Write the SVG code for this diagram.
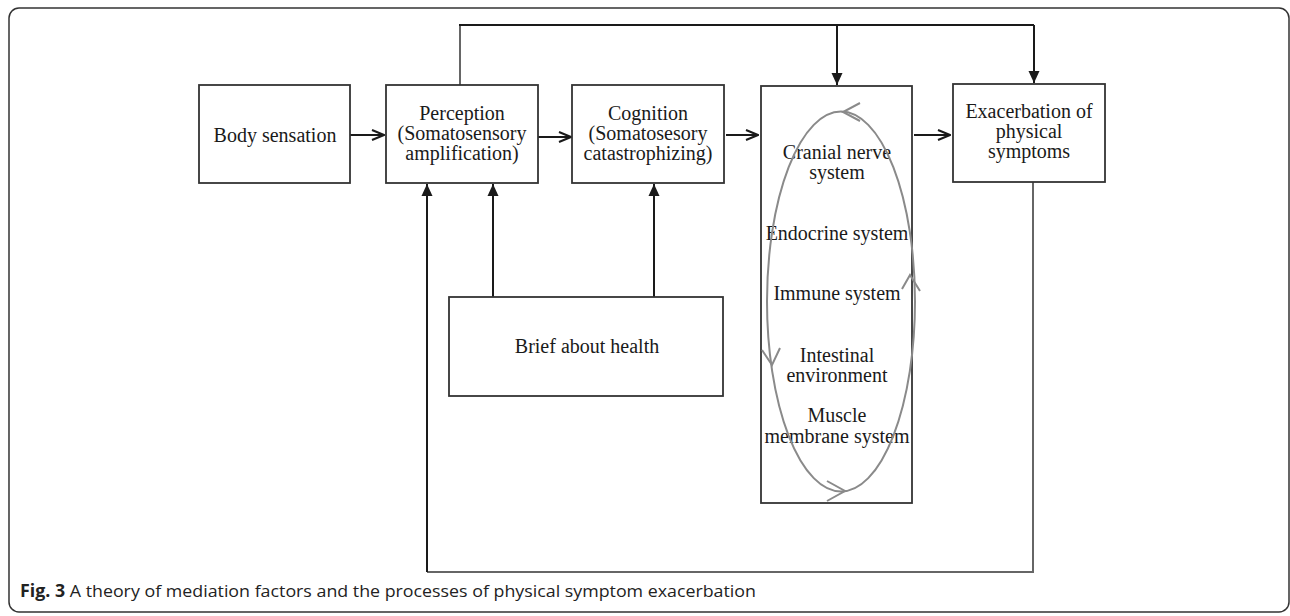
<svg xmlns="http://www.w3.org/2000/svg" width="1290" height="616" viewBox="0 0 1290 616">
<defs>
<style>
.box{fill:#fff;stroke:#333;stroke-width:1.8}
.t{font-family:"Liberation Serif","Times New Roman",serif;font-size:20px;fill:#1a1a1a;text-anchor:middle}
.ln{fill:none;stroke:#1a1a1a;stroke-width:2}
.gl{fill:none;stroke:#666;stroke-width:2}
.cyc{fill:none;stroke:#8a8a8a;stroke-width:2}
.cap{font-family:"Open Sans","Noto Sans","Liberation Sans",sans-serif;font-size:17px;fill:#222}
</style>
<marker id="open" viewBox="0 0 14 12" refX="13" refY="6" markerWidth="14" markerHeight="12" markerUnits="userSpaceOnUse" orient="auto">
<path d="M1,1 L13,6 L1,11" fill="none" stroke="#1a1a1a" stroke-width="2"/>
</marker>
<marker id="fill" viewBox="0 0 12 12" refX="12" refY="6" markerWidth="12" markerHeight="12" markerUnits="userSpaceOnUse" orient="auto">
<path d="M0,0.5 L12,6 L0,11.5 Z" fill="#1a1a1a"/>
</marker>
</defs>
<rect x="9" y="8" width="1280" height="604" rx="10" fill="#fff" stroke="#333" stroke-width="1.5"/>
<g id="connectors">
<path class="ln" d="M350,135 H384" marker-end="url(#open)"/>
<path class="ln" d="M538,137 H571" marker-end="url(#open)"/>
<path class="ln" d="M726,135 H758" marker-end="url(#open)"/>
<path class="ln" d="M914,135 H950" marker-end="url(#open)"/>
<path class="gl" d="M460,85 V25"/>
<path class="ln" d="M459,25 H1034"/>
<path class="ln" d="M837,25 V85" marker-end="url(#fill)"/>
<path class="ln" d="M1034,25 V83" marker-end="url(#fill)"/>
<path class="ln" d="M493,297 V184" marker-end="url(#fill)"/>
<path class="ln" d="M654,297 V184" marker-end="url(#fill)"/>
<path class="gl" d="M1033,182 V572 H427"/>
<path class="ln" d="M427,572 V184" marker-end="url(#fill)"/>
</g>
<g id="body-sensation">
<rect class="box" x="199" y="85" width="151" height="98"/>
<text class="t" x="275" y="142">Body sensation</text>
</g>
<g id="perception">
<rect class="box" x="386" y="85" width="152" height="98"/>
<text class="t" x="462" y="120">Perception</text>
<text class="t" x="462" y="140">(Somatosensory</text>
<text class="t" x="462" y="160">amplification)</text>
</g>
<g id="cognition">
<rect class="box" x="572" y="85" width="152" height="98"/>
<text class="t" x="648" y="120">Cognition</text>
<text class="t" x="648" y="140">(Somatosesory</text>
<text class="t" x="648" y="160">catastrophizing)</text>
</g>
<g id="systems">
<rect class="box" x="761" y="86" width="151" height="417"/>
<text class="t" x="837" y="159">Cranial nerve</text>
<text class="t" x="837" y="179">system</text>
<text class="t" x="837" y="240">Endocrine system</text>
<text class="t" x="837" y="300">Immune system</text>
<text class="t" x="837" y="362">Intestinal</text>
<text class="t" x="837" y="382">environment</text>
<text class="t" x="837" y="422">Muscle</text>
<text class="t" x="837" y="443">membrane system</text>
<ellipse class="cyc" cx="841" cy="301.5" rx="74" ry="190"/>
<path class="cyc" d="M860,103 L843,112 L860,121"/>
<path class="cyc" d="M762,350 L772,365 L780,348"/>
<path class="cyc" d="M827,481 L845,491 L827,501"/>
<path class="cyc" d="M902,289 L910,275 L920,291"/>
</g>
<g id="exacerbation">
<rect class="box" x="953" y="84" width="152" height="98"/>
<text class="t" x="1029" y="118">Exacerbation of</text>
<text class="t" x="1029" y="138">physical</text>
<text class="t" x="1029" y="158">symptoms</text>
</g>
<g id="belief">
<rect class="box" x="449" y="297" width="274" height="99"/>
<text class="t" x="587" y="353">Brief about health</text>
</g>
<text class="cap" x="20" y="597" textLength="736" lengthAdjust="spacingAndGlyphs"><tspan font-weight="bold">Fig. 3</tspan> A theory of mediation factors and the processes of physical symptom exacerbation</text>
</svg>
